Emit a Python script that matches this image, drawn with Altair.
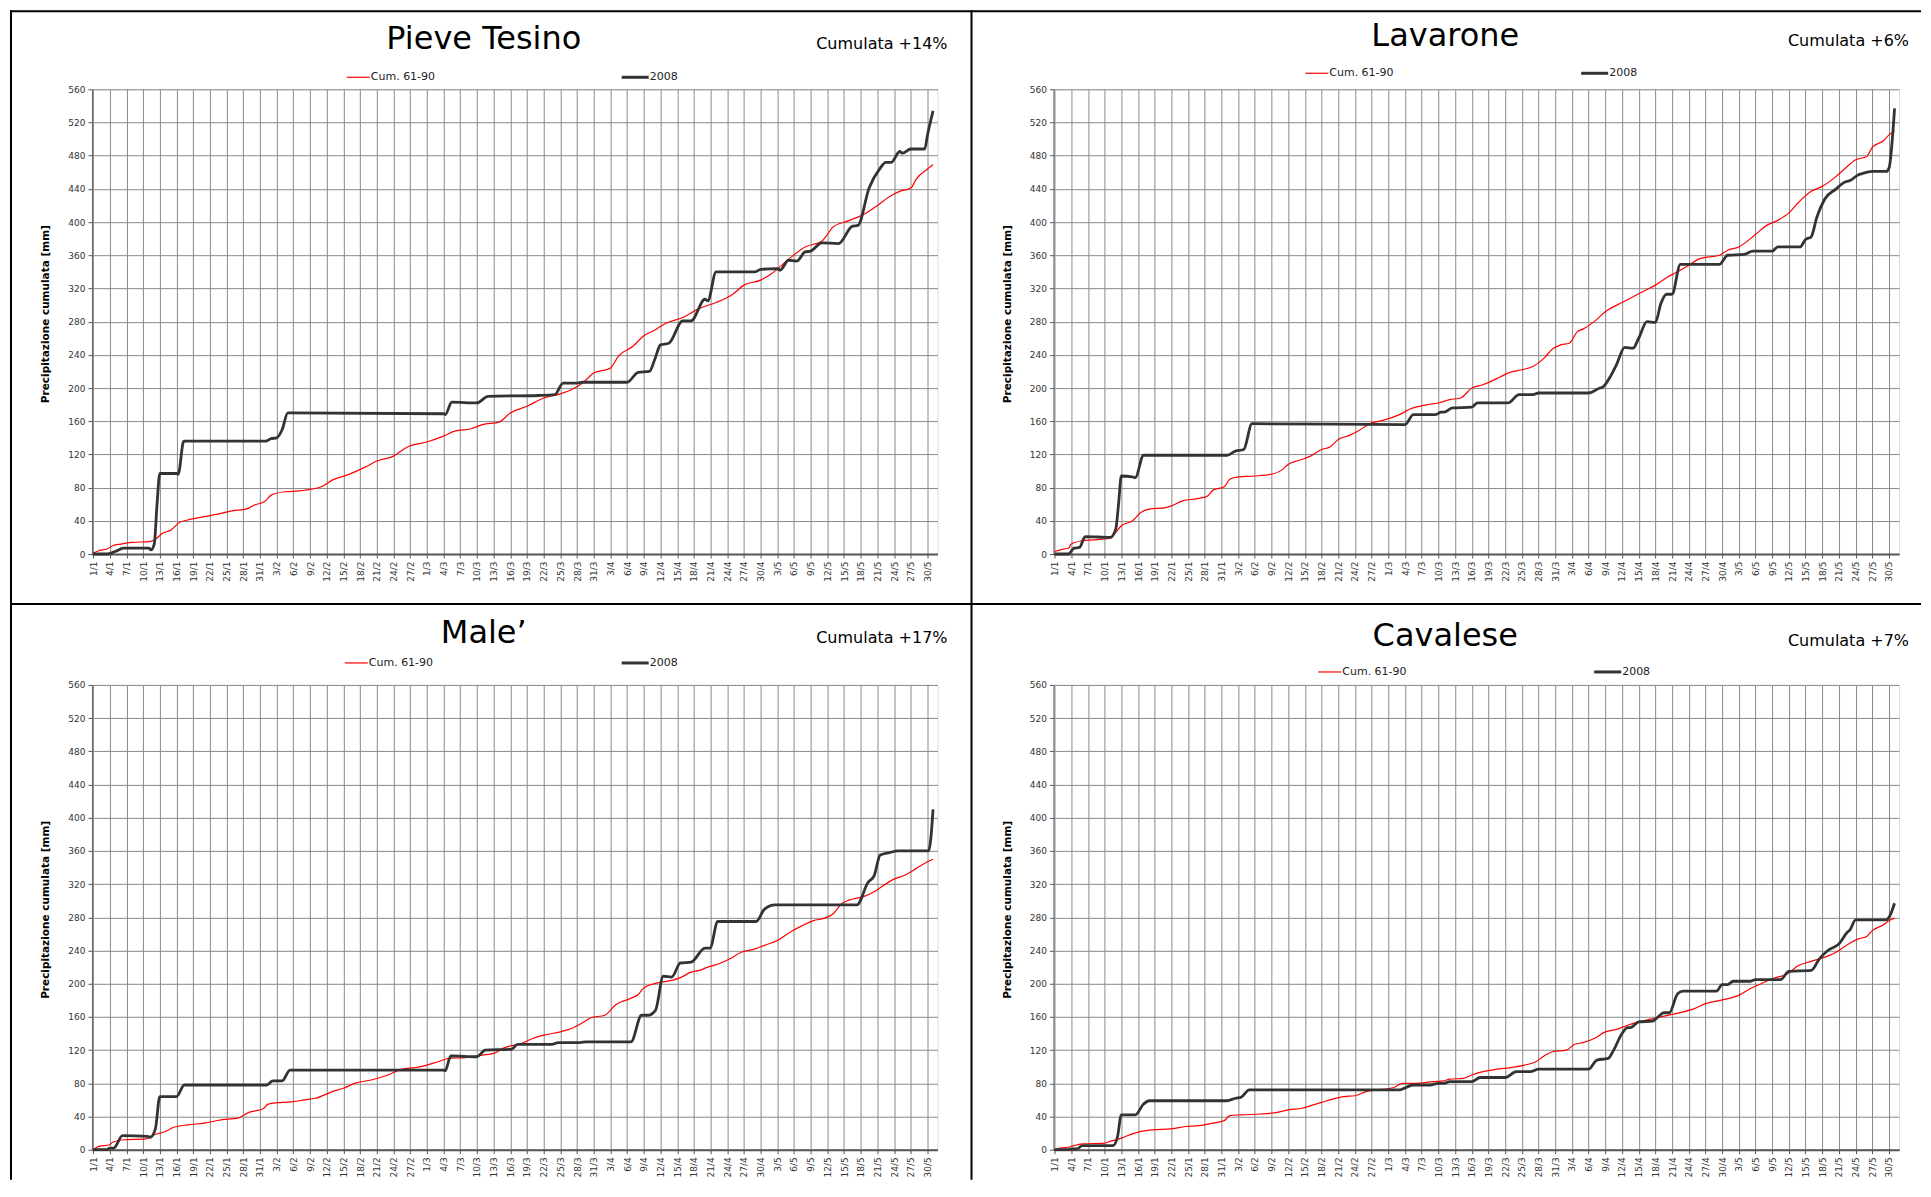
import altair as alt
import pandas as pd

# ---------------- data ----------------
DAY_LABELS = ["1/1", "4/1", "7/1", "10/1", "13/1", "16/1", "19/1", "22/1", "25/1", "28/1",
              "31/1", "3/2", "6/2", "9/2", "12/2", "15/2", "18/2", "21/2", "24/2", "27/2",
              "1/3", "4/3", "7/3", "10/3", "13/3", "16/3", "19/3", "22/3", "25/3", "28/3",
              "31/3", "3/4", "6/4", "9/4", "12/4", "15/4", "18/4", "21/4", "24/4", "27/4",
              "30/4", "3/5", "6/5", "9/5", "12/5", "15/5", "18/5", "21/5", "24/5", "27/5", "30/5"]
TICK_DAYS = [3 * i for i in range(len(DAY_LABELS))]
Y_TICKS = [0, 40, 80, 120, 160, 200, 240, 280, 320, 360, 400, 440, 480, 520, 560]
SERIES = ["Cum. 61-90", "2008"]

# (day index from 1 Jan 2008, cumulated mm)
PT_NORM = [(0, 1), (1, 4), (2.5, 6), (3.5, 10), (5, 12), (7, 14), (10, 15), (11, 17), (12.5, 25), (14, 29),
           (15.5, 38), (17, 41), (20, 45), (23, 49), (25, 52), (27.5, 54), (29, 59), (31, 64), (32, 71),
           (34.5, 75), (37, 76), (41, 81), (43, 89), (46, 96), (49, 105), (51, 112), (54, 118), (56.5, 129),
           (60, 135), (63, 142), (65, 148), (68, 151), (70, 156), (73, 159), (75, 170), (78, 178), (81, 188),
           (84, 193), (86, 198), (88, 206), (90, 218), (93, 224), (94.5, 239), (97, 250), (99, 263),
           (101, 270), (103, 278), (106, 285), (109, 296), (112, 303), (115, 313), (117, 324), (120, 330),
           (122, 338), (125, 355), (128, 370), (131, 377), (132, 385), (133, 394), (136, 402), (139, 411),
           (141, 420), (143, 430), (145, 437), (147, 441), (148, 452), (150, 464), (151, 469)]
PT_2008 = [(0, 0), (2.5, 0), (4, 3), (5.5, 7), (10, 7), (10.4, 5), (11, 12), (11.5, 60), (12, 97), (15, 97),
           (15.3, 96), (16.3, 136), (31, 136), (32, 139), (33, 140), (34, 150), (35, 170), (63, 169),
           (63.3, 168), (64.5, 183), (69, 182), (71, 190), (80, 191), (83, 192), (84.5, 206), (87, 206),
           (88, 207), (96, 207), (98, 219), (100, 220), (101, 235), (102, 252), (103.5, 254), (106, 281),
           (107.5, 281), (110, 307), (110.5, 305), (112, 340), (119, 340), (120, 343), (123, 344),
           (123.5, 342), (125, 354), (126.5, 353), (128, 364), (129, 365), (131, 375), (134, 374),
           (136.5, 395), (137.5, 396), (139.5, 441), (141.5, 465), (142.5, 472), (143.5, 472), (145, 485),
           (145.5, 483), (147, 488), (149.5, 488), (150, 505), (151, 534)]

LV_NORM = [(0, 3), (1.5, 6), (2.5, 7), (3, 12), (5, 16), (7, 17), (10, 19), (11, 26), (12, 34), (14, 40),
           (15.5, 50), (17, 54), (20, 56), (21, 58), (23, 64), (26, 67), (27.5, 70), (28.5, 77), (30.5, 81),
           (31.5, 90), (33, 93), (36, 94), (39.5, 97), (41, 102), (42, 108), (44, 113), (46, 118), (48, 126),
           (49.5, 129), (51, 138), (53, 143), (54.5, 148), (57, 158), (59, 161), (62, 168), (64, 175),
           (67, 180), (69, 182), (71, 186), (73, 188), (75, 200), (77, 204), (80, 213), (81.5, 218),
           (84, 222), (86, 226), (88, 236), (89.5, 247), (91, 252), (92.5, 254), (94, 268), (95, 271),
           (97, 280), (99, 292), (102, 303), (104, 310), (106, 317), (108, 324), (110, 333), (112, 340),
           (114, 348), (116, 356), (119.5, 360), (121, 366), (123, 370), (126, 385), (128, 396), (130, 402),
           (132, 411), (133.5, 422), (136, 437), (138, 443), (140.5, 455), (142, 464), (144, 475),
           (146, 479), (147, 490), (149, 498), (150, 505), (151, 510)]
LV_2008 = [(0, 0), (2.5, 0), (3.5, 7), (4.5, 8), (5.5, 21), (10, 20), (11, 30), (11.5, 60), (12, 94), (14, 93),
           (14.5, 92), (16, 119), (31, 119), (32.5, 124), (34, 126), (35.5, 157), (63, 156), (64.5, 168),
           (68.5, 168), (69.5, 171), (70, 171), (71.5, 176), (75, 177), (76, 182), (81.5, 182), (83.5, 192),
           (86, 192), (87, 194), (96, 194), (98, 200), (98.5, 201), (100, 215), (101, 228), (102.5, 249),
           (104, 248), (105, 260), (106.5, 280), (108, 279), (109, 302), (110, 313), (111, 313),
           (112.5, 349), (119.5, 349), (121, 360), (124, 361), (125.5, 365), (129, 365), (130, 370),
           (134, 370), (135, 379), (136, 382), (137, 405), (138.5, 428), (140.5, 440), (142, 448),
           (143, 450), (144.5, 457), (145, 458), (147, 461), (149.5, 461), (150, 465), (151, 537)]

ML_NORM = [(0, 0), (1, 4), (3, 6), (3.5, 9), (5.5, 12), (9.5, 13), (11, 18), (13, 22), (14.5, 27), (17, 30),
           (20, 32), (23, 36), (26, 38), (28, 45), (30.5, 49), (31.5, 55), (34, 57), (36, 58), (38, 60),
           (40, 62), (43, 70), (45, 74), (47, 80), (50, 84), (53, 90), (55.5, 97), (58, 99), (60, 102),
           (62, 106), (64, 110), (67, 111), (70, 114), (72, 116), (74, 123), (77, 128), (79, 134), (81, 138),
           (84, 142), (86, 146), (88, 153), (89.5, 159), (92, 162), (94, 175), (96.5, 182), (98, 187),
           (99, 195), (101.5, 201), (104, 204), (105.5, 207), (107.5, 214), (109, 216), (110.5, 220),
           (112.5, 224), (114.5, 230), (116.5, 238), (118.5, 241), (121, 247), (123, 252), (125.5, 263),
           (127.5, 270), (129.5, 276), (131.5, 279), (133, 284), (134.5, 296), (136, 301), (138.5, 305),
           (140.5, 311), (142, 318), (144, 326), (146, 331), (148, 339), (150, 347), (151, 350)]
ML_2008 = [(0, 0), (2.5, 0), (3, 2), (3.7, 2), (5.3, 17), (9.8, 16), (10.3, 15), (11.2, 25), (12, 64), (15, 64),
           (16.4, 78), (31.2, 78), (32.3, 83), (34, 83), (35.4, 96), (63, 96), (63.3, 95), (64.3, 113),
           (69, 112), (70.5, 120), (75.2, 121), (76.3, 127), (82.5, 127), (83.6, 129), (87.5, 129),
           (88.6, 130), (96.7, 130), (98.6, 162), (99.7, 162), (101.1, 168), (102.5, 209), (104, 208),
           (105.6, 225), (107.5, 226), (110, 243), (110.9, 243), (112.3, 275), (119.2, 275), (120.7, 290),
           (122.6, 295), (137.3, 295), (139.3, 322), (140.4, 330), (141.5, 355), (143.2, 358), (144.7, 360),
           (150.2, 360), (150.6, 375), (151, 410)]

CV_NORM = [(0, 0), (1, 2), (2.5, 3), (3.5, 5), (5, 7), (9, 8), (10, 10), (12, 14), (14, 19), (15.5, 22),
           (17.5, 24), (21, 25), (23.5, 28), (26, 29), (28.5, 32), (30.5, 35), (31.5, 41), (33.5, 42),
           (37, 43), (40, 45), (42, 48), (44.5, 50), (46.5, 54), (48, 57), (50, 61), (52, 64), (54, 65),
           (56, 70), (58, 72), (61, 75), (62.5, 80), (65, 80), (68, 82), (70, 83), (71, 85), (73.5, 86),
           (75, 90), (77, 94), (79.5, 97), (82, 99), (84.5, 102), (86.5, 106), (88, 113), (89.5, 118),
           (92, 120), (93.5, 127), (95, 129), (97, 134), (99, 142), (101, 145), (103, 150), (105, 154),
           (107, 157), (109, 160), (111, 163), (113, 166), (115, 170), (117, 176), (119, 179), (121, 182),
           (123, 186), (125, 194), (127, 200), (129, 206), (132, 213), (133.5, 221), (136, 227), (138, 231),
           (140.5, 238), (142.5, 247), (144.5, 254), (146, 257), (147, 264), (149, 271), (150, 276),
           (151, 279)]
CV_2008 = [(0, 0), (2.5, 0), (3, 1), (4, 1), (5, 5), (10.5, 5), (11.3, 15), (12, 42), (14.5, 42), (16, 55),
           (17, 59), (31, 59), (32.5, 62), (33.5, 63), (35, 72), (62, 72), (62.5, 73), (64.5, 78), (67.5, 78),
           (69, 80), (70, 80), (71, 82), (75, 82), (76.5, 87), (81, 87), (83, 94), (85.5, 94), (87, 97),
           (96, 97), (97.5, 108), (99.5, 110), (100.5, 120), (102, 140), (103, 147), (103.5, 147), (105, 154),
           (107.5, 155), (108.5, 160), (109.5, 165), (110.5, 165), (112, 188), (113, 191), (119, 191),
           (120, 199), (121, 199), (122, 203), (125, 203), (126, 205), (130.5, 205), (132, 215), (136, 216),
           (137.5, 230), (139, 240), (141, 248), (142.5, 262), (143, 265), (144, 277), (149.5, 277),
           (150, 280), (151, 297)]

STATIONS = [
    ("Pieve Tesino", "Cumulata +14%", PT_NORM, PT_2008),
    ("Lavarone", "Cumulata +6%", LV_NORM, LV_2008),
    ("Male\u2019", "Cumulata +17%", ML_NORM, ML_2008),
    ("Cavalese", "Cumulata +7%", CV_NORM, CV_2008),
]

# ---------------- layout / style ----------------
W, H = 846, 465
FONT = "DejaVu Sans"
RED = "#ff0000"
BLACK = "#333333"
# per panel: title baseline y, legend y, red legend x, black legend x
PANEL_POS = [(-40, -12, 255, 530), (-43, -16, 252, 528), (-42, -22, 253, 530), (-39, -13, 265, 541)]

LABEL_EXPR = "[" + ",".join("'%s'" % l for l in DAY_LABELS) + "][round(datum.value/3)]"

ONE = pd.DataFrame({"k": [0]})


def series_df(points):
    return pd.DataFrame({"day": [p[0] for p in points], "value": [p[1] for p in points]})


def line_layer(points, color, width):
    x_axis = alt.Axis(values=TICK_DAYS, labelExpr=LABEL_EXPR, labelAngle=270, labelAlign="right",
                      labelBaseline="middle", labelFontSize=9, labelFont=FONT, labelColor="#333333",
                      labelPadding=3, labelOverlap=False, labelFlush=False, tickSize=4, tickColor="#555555",
                      domainColor="#555555", domainWidth=2, grid=True, gridColor="#8a8a8a", gridWidth=1,
                      title=None)
    y_axis = alt.Axis(values=Y_TICKS, labelFontSize=9, labelFont=FONT, labelColor="#333333", labelPadding=3,
                      labelFlush=False, tickSize=4, tickColor="#555555", domainColor="#666666", domainWidth=1,
                      grid=True, gridColor="#8a8a8a", gridWidth=1,
                      title="Precipitazione cumulata [mm]", titleFont=FONT, titleFontSize=10.5,
                      titleFontWeight="bold", titleColor="#000000", titlePadding=17, titleY=H / 2 - 8)
    return alt.Chart(series_df(points)).mark_line(
        interpolate="monotone", color=color, strokeWidth=width
    ).encode(
        x=alt.X("day:Q", scale=alt.Scale(domain=[-0.2, 151.8], nice=False, zero=False), axis=x_axis),
        y=alt.Y("value:Q", scale=alt.Scale(domain=[0, 560], nice=False), axis=y_axis),
    )


def text_layer(txt, x, y, size, align, color="#000000"):
    return alt.Chart(ONE).mark_text(
        text=txt, font=FONT, fontSize=size, align=align, baseline="alphabetic", color=color
    ).encode(x=alt.value(x), y=alt.value(y))


def legend_layer(x, y, length, color, width, label):
    rule = alt.Chart(ONE).mark_rule(color=color, strokeWidth=width).encode(
        x=alt.value(x), x2=alt.value(x + length), y=alt.value(y))
    lab = alt.Chart(ONE).mark_text(
        text=label, font=FONT, fontSize=11, align="left", baseline="middle", color="#222222"
    ).encode(x=alt.value(x + length + 1), y=alt.value(y))
    return [rule, lab]


def frame_layers():
    # panel borders (decoration), relative to the first panel's plot area
    lines = []
    for (x, x2, y) in [(-82, 1830, -78), (-82, 1830, 515)]:
        lines.append(alt.Chart(ONE).mark_rule(color="#000000", strokeWidth=2).encode(
            x=alt.value(x), x2=alt.value(x2), y=alt.value(y)))
    for (x, y, y2) in [(-81, -79, 1091), (880, -79, 1091)]:
        lines.append(alt.Chart(ONE).mark_rule(color="#000000", strokeWidth=2).encode(
            x=alt.value(x), y=alt.value(y), y2=alt.value(y2)))
    return lines


panels = []
for i, (name, delta, norm, y2008) in enumerate(STATIONS):
    ty, ly, rx, bx = PANEL_POS[i]
    layers = []
    if i == 0:
        layers += frame_layers()
    layers.append(line_layer(norm, RED, 1.2))
    layers.append(line_layer(y2008, BLACK, 2.8))
    layers.append(text_layer(name, 392, ty, 32, "center"))
    layers.append(text_layer(delta, 856, ty, 16, "right"))
    layers += legend_layer(rx, ly, 23, RED, 1.2, SERIES[0])
    layers += legend_layer(bx, ly, 27, BLACK, 3, SERIES[1])
    panels.append(alt.layer(*layers).properties(width=W, height=H))

chart = alt.concat(*panels, columns=2, spacing={"row": 131, "column": 116}, bounds="flush").properties(
    padding=0
).configure_view(stroke="#888888", strokeWidth=1).configure(font=FONT)

chart.save("out.html", embed_options={"renderer": "svg", "actions": False})
